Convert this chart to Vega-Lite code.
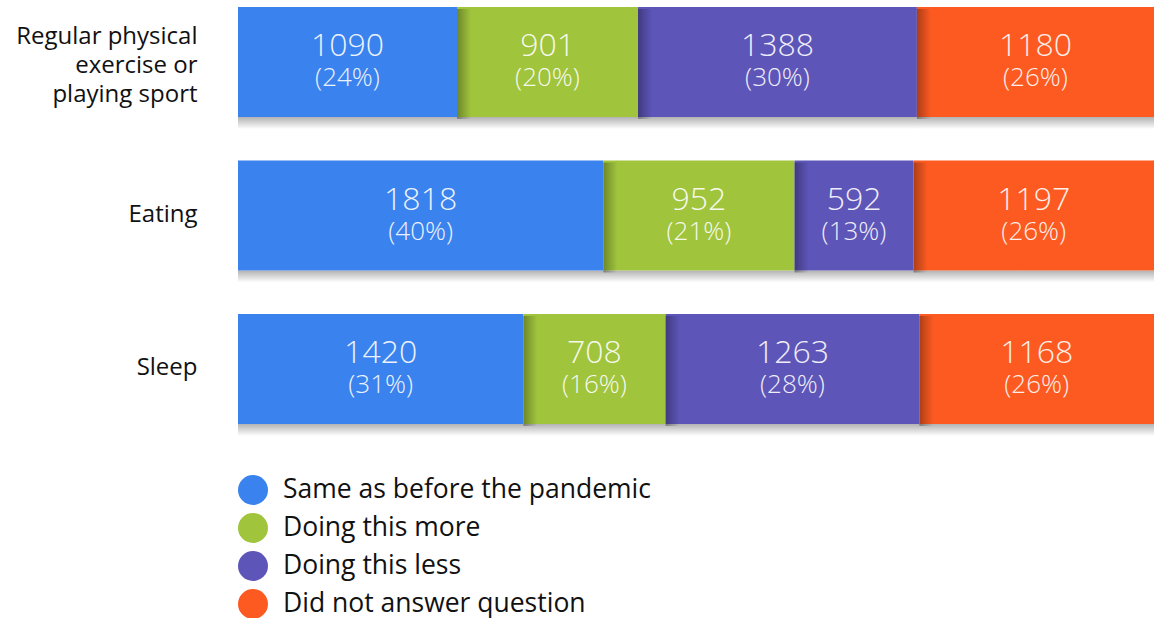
{
  "$schema": "https://vega.github.io/schema/vega-lite/v6.json",
  "autosize": {"type": "none"},
  "padding": {"left": 238, "top": 0, "right": 0, "bottom": 187},
  "width": 916,
  "height": 431,
  "background": "white",
  "config": {"view": {"stroke": null}, "font": "Open Sans"},
  "data": {
    "values": [
      {"activity": "Regular physical exercise or playing sport", "response": "Same as before the pandemic", "order": 1, "count": 1090, "pct": 24},
      {"activity": "Regular physical exercise or playing sport", "response": "Doing this more", "order": 2, "count": 901, "pct": 20},
      {"activity": "Regular physical exercise or playing sport", "response": "Doing this less", "order": 3, "count": 1388, "pct": 30},
      {"activity": "Regular physical exercise or playing sport", "response": "Did not answer question", "order": 4, "count": 1180, "pct": 26},
      {"activity": "Eating", "response": "Same as before the pandemic", "order": 1, "count": 1818, "pct": 40},
      {"activity": "Eating", "response": "Doing this more", "order": 2, "count": 952, "pct": 21},
      {"activity": "Eating", "response": "Doing this less", "order": 3, "count": 592, "pct": 13},
      {"activity": "Eating", "response": "Did not answer question", "order": 4, "count": 1197, "pct": 26},
      {"activity": "Sleep", "response": "Same as before the pandemic", "order": 1, "count": 1420, "pct": 31},
      {"activity": "Sleep", "response": "Doing this more", "order": 2, "count": 708, "pct": 16},
      {"activity": "Sleep", "response": "Doing this less", "order": 3, "count": 1263, "pct": 28},
      {"activity": "Sleep", "response": "Did not answer question", "order": 4, "count": 1168, "pct": 26}
    ]
  },
  "transform": [
    {"stack": "count", "groupby": ["activity"], "sort": [{"field": "order"}], "as": ["x0", "x1"], "offset": "normalize"},
    {"calculate": "(datum.x0 + datum.x1) / 2", "as": "mid"},
    {"calculate": "'(' + datum.pct + '%)'", "as": "pctLabel"}
  ],
  "encoding": {
    "y": {
      "field": "activity",
      "type": "nominal",
      "sort": ["Regular physical exercise or playing sport", "Eating", "Sleep"],
      "scale": {"paddingInner": 0.283, "paddingOuter": 0.046},
      "axis": {
        "title": null,
        "domain": false,
        "ticks": false,
        "labelFontSize": 24,
        "labelColor": "#111111",
        "labelPadding": 41,
        "labelLimit": 300,
        "labelLineHeight": 29,
        "labelOffset": {"condition": {"test": "datum.value == 'Regular physical exercise or playing sport'", "value": -25}, "value": -1},
        "labelExpr": "datum.value == 'Regular physical exercise or playing sport' ? ['Regular physical', 'exercise or', 'playing sport'] : datum.value"
      }
    }
  },
  "layer": [
    {
      "mark": {
        "type": "bar",
        "height": 12,
        "yOffset": 61,
        "color": {"gradient": "linear", "x1": 0, "y1": 0, "x2": 0, "y2": 1, "stops": [{"offset": 0, "color": "rgba(0,0,0,0.3)"}, {"offset": 1, "color": "rgba(0,0,0,0)"}]}
      },
      "encoding": {
        "x": {"field": "x0", "type": "quantitative", "scale": {"domain": [0, 1]}, "axis": null},
        "x2": {"field": "x1"}
      }
    },
    {
      "mark": {"type": "bar", "opacity": 1},
      "encoding": {
        "x": {"field": "x0", "type": "quantitative", "scale": {"domain": [0, 1]}, "axis": null},
        "x2": {"field": "x1"},
        "color": {
          "field": "response",
          "type": "nominal",
          "scale": {
            "domain": ["Same as before the pandemic", "Doing this more", "Doing this less", "Did not answer question"],
            "range": ["#3A82EE", "#A0C43C", "#5D55B8", "#FC5A21"]
          },
          "legend": {
            "title": null,
            "orient": "none",
            "legendX": 0,
            "legendY": 475,
            "padding": 0,
            "symbolType": "circle",
            "symbolSize": 900,
            "symbolStrokeWidth": 0,
            "symbolOpacity": 1,
            "labelFontSize": 26.5,
            "labelColor": "#111111",
            "labelOffset": 15,
            "rowPadding": 8,
            "labelLimit": 600
          }
        }
      }
    },
    {
      "transform": [{"filter": "datum.order < 4"}],
      "mark": {
        "type": "bar",
        "x2Offset": 14,
        "y2Offset": 2,
        "yOffset": 2,
        "color": {"gradient": "linear", "x1": 0, "y1": 0, "x2": 1, "y2": 0, "stops": [{"offset": 0, "color": "rgba(0,0,0,0.32)"}, {"offset": 0.35, "color": "rgba(0,0,0,0.2)"}, {"offset": 1, "color": "rgba(0,0,0,0)"}]}
      },
      "encoding": {
        "x": {"field": "x1", "type": "quantitative"},
        "x2": {"field": "x1"}
      }
    },
    {
      "mark": {"type": "text", "color": "white", "opacity": 0.9, "fontSize": 32, "fontWeight": 300, "dy": -16},
      "encoding": {
        "x": {"field": "mid", "type": "quantitative"},
        "text": {"field": "count", "type": "quantitative", "format": "d"}
      }
    },
    {
      "mark": {"type": "text", "color": "white", "opacity": 0.9, "fontSize": 26, "fontWeight": 300, "dy": 16},
      "encoding": {
        "x": {"field": "mid", "type": "quantitative"},
        "text": {"field": "pctLabel", "type": "nominal"}
      }
    }
  ]
}
